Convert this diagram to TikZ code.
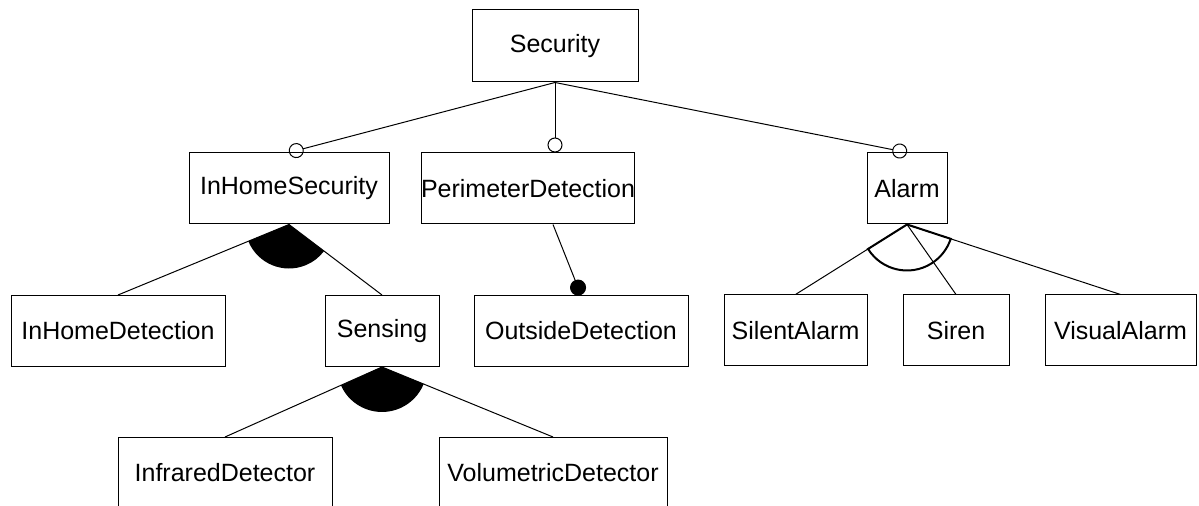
\documentclass[tikz,border=0pt]{standalone}
\usepackage{fontspec}
\setmainfont{Liberation Sans}
\usetikzlibrary{arrows.meta,calc}

\begin{document}
\begin{tikzpicture}[x=0.5pt,y=-0.5pt,line width=0.5pt,every node/.style={draw,align=center,inner sep=0pt,minimum height=35.5pt,font=\fontsize{12.5}{15}\selectfont}]
      \clip (0,0) rectangle (1199,506);
      \node[minimum width=83pt,minimum height=36pt] (sec) at (555,46) {Security};
      \node[minimum width=100pt] (ihs) at (289,188.5) {InHomeSecurity};
      \node[minimum width=106pt] (per) at (528,188.5) {PerimeterDetection};
      \node[minimum width=40pt] (alm) at (907,188.5) {Alarm};
      \node[minimum width=107pt] (ihd) at (118,331) {InHomeDetection};
      \node[minimum width=57pt] (sen) at (382,331) {Sensing};
      \node[minimum width=107pt] (out) at (581,331) {OutsideDetection};
      \node[minimum width=71.5pt] (sil) at (795.5,330.5) {SilentAlarm};
      \node[minimum width=53pt] (sir) at (956,330.5) {Siren};
      \node[minimum width=75.5pt] (vis) at (1120.5,330.5) {VisualAlarm};
      \node[minimum width=107pt] (ird) at (225,473) {InfraredDetector};
      \node[minimum width=114pt] (vol) at (553,473) {VolumetricDetector};
      \draw[-{Circle[open,length=7.5pt]}] (sec.south)--(ihs.north);
      \draw[-{Circle[open,length=7.5pt]}] (sec.south)--(sec.south |- per.north);
      \draw[-{Circle[open,length=7.5pt]}] (sec.south)--(alm.north);
      \draw[-{Circle[length=8pt]}] ($(per.south)+(25,0)$)--(out.north);
      \draw (ihs.south)--(ihd.north);
      \draw (ihs.south)--(sen.north);
      \draw (sen.south)--(ird.north);
      \draw (sen.south)--(vol.north);
      \draw (alm.south)--(sil.north);
      \draw (alm.south)--(sir.north);
      \draw (alm.south)--(vis.north);
      \fill let \p1=($(ihd.north)-(ihs.south)$),\p2=($(sen.north)-(ihs.south)$),\n1={atan2(\y1,\x1)},\n2={atan2(\y2,\x2)} in
        (ihs.south)--++(\n1:22pt) arc[start angle=\n1,end angle=\n2,radius=22pt]--cycle;
      \fill let \p1=($(ird.north)-(sen.south)$),\p2=($(vol.north)-(sen.south)$),\n1={atan2(\y1,\x1)},\n2={atan2(\y2,\x2)} in
        (sen.south)--++(\n1:22.5pt) arc[start angle=\n1,end angle=\n2,radius=22.5pt]--cycle;
      \draw[line width=1pt] let \p1=($(sil.north)-(alm.south)$),\p2=($(vis.north)-(alm.south)$),\n1={atan2(\y1,\x1)},\n2={atan2(\y2,\x2)} in
        (alm.south)--++(\n1:23pt) arc[start angle=\n1,end angle=\n2,radius=23pt]--cycle;
    \end{tikzpicture}
\end{document}
